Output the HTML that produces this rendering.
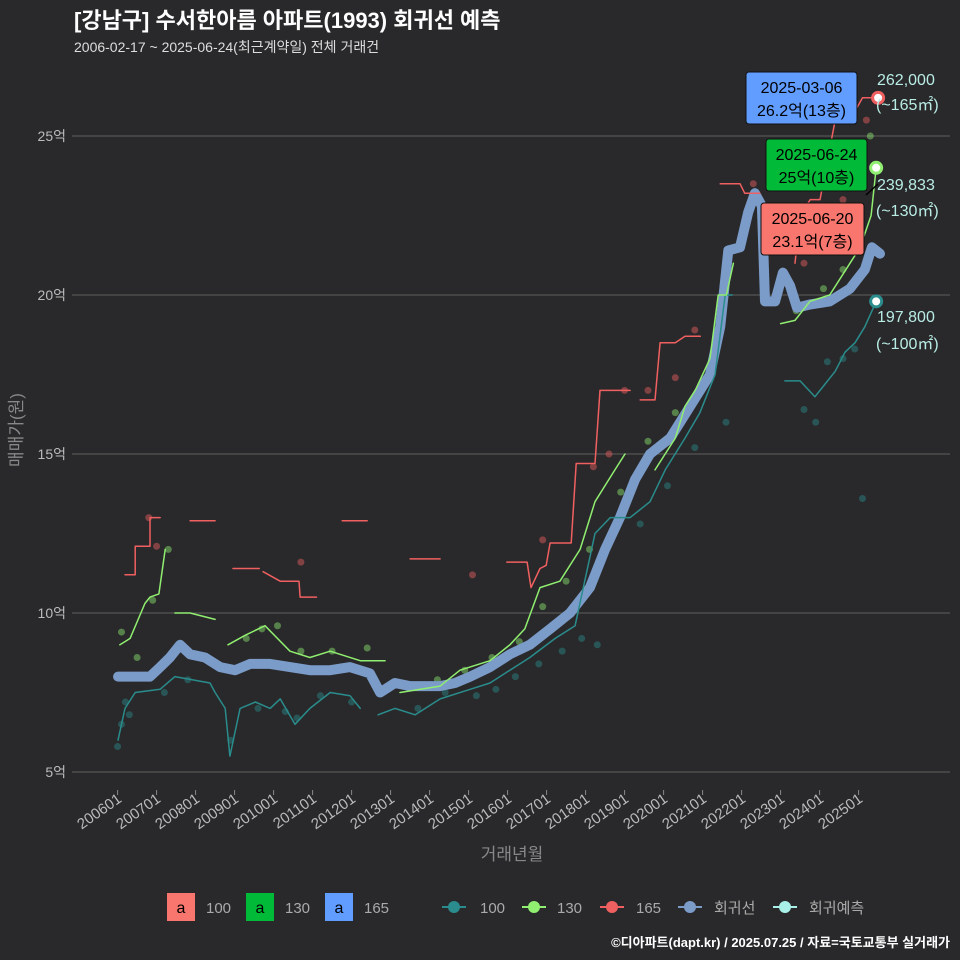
<!DOCTYPE html>
<html><head><meta charset="utf-8">
<style>
body{margin:0;background:#29292b;}
svg{display:block;font-family:"Liberation Sans","Noto Sans CJK KR",sans-serif;}
</style></head><body>
<svg id="c" width="960" height="960" viewBox="0 0 960 960">
<rect x="0" y="0" width="960" height="960" fill="#29292b"/>
<text x="74" y="28" font-size="22" font-weight="bold" fill="#fff">[강남구] 수서한아름 아파트(1993) 회귀선 예측</text>
<text x="74" y="52" font-size="14" fill="#ddd">2006-02-17 ~ 2025-06-24(최근계약일) 전체 거래건</text>
<g id="grid"></g>
<g id="xt"></g>
<g id="marks"></g>
<text transform="translate(22,430) rotate(-90)" text-anchor="middle" font-size="17" fill="#888">매매가(원)</text>
<text x="512" y="860" text-anchor="middle" font-size="17" fill="#888">거래년월</text>
<g font-size="15" fill="#aaa">
<rect x="167" y="893" width="28" height="28" fill="#f8766d"/><text x="181" y="913" text-anchor="middle" fill="#000" font-size="16">a</text><text x="206" y="913">100</text>
<rect x="246" y="893" width="28" height="28" fill="#00ba38"/><text x="260" y="913" text-anchor="middle" fill="#000" font-size="16">a</text><text x="285" y="913">130</text>
<rect x="325" y="893" width="28" height="28" fill="#619cff"/><text x="339" y="913" text-anchor="middle" fill="#000" font-size="16">a</text><text x="364" y="913">165</text>
<g><line x1="442" y1="907" x2="466" y2="907" stroke="#2a8c8c" stroke-width="2"/><circle cx="454" cy="907" r="6" fill="#2a8c8c"/><text x="480" y="913">100</text></g>
<g><line x1="522" y1="907" x2="546" y2="907" stroke="#90ee70" stroke-width="2"/><circle cx="534" cy="907" r="6" fill="#90ee70"/><text x="557" y="913">130</text></g>
<g><line x1="600" y1="907" x2="624" y2="907" stroke="#f06060" stroke-width="2"/><circle cx="612" cy="907" r="6" fill="#f06060"/><text x="636" y="913">165</text></g>
<g><line x1="678" y1="907" x2="702" y2="907" stroke="#7b9bc8" stroke-width="2"/><circle cx="690" cy="907" r="6" fill="#7b9bc8"/><text x="714" y="913">회귀선</text></g>
<g><line x1="773" y1="907" x2="797" y2="907" stroke="#a8f0e8" stroke-width="2"/><circle cx="785" cy="907" r="6" fill="#a8f0e8"/><text x="809" y="913">회귀예측</text></g>
</g>
<text x="950" y="947" text-anchor="end" font-size="13" font-weight="bold" fill="#fff">©디아파트(dapt.kr) / 2025.07.25 / 자료=국토교통부 실거래가</text>
</svg>
<script>
const yTicks=[5,10,15,20,25];
const xTickLabels=["200601","200701","200801","200901","201001","201101","201201","201301","201401","201501","201601","201701","201801","201901","202001","202101","202201","202301","202401","202501"];
const regT=[2006.01,2006.83,2007.09,2007.34,2007.6,2007.86,2008.24,2008.63,2009.01,2009.4,2009.91,2010.42,2010.93,2011.45,2011.96,2012.47,2012.73,2013.11,2013.5,2014.27,2014.65,2015.04,2015.55,2016.06,2016.57,2017.09,2017.6,2018.11,2018.5,2018.88,2019.27,2019.65,2020.17,2020.68,2021.19,2021.45,2021.66,2021.96,2022.17,2022.34,2022.52,2022.6,2022.86,2023.06,2023.24,2023.42,2023.75,2024.26,2024.78,2025.16,2025.34,2025.55];
const regV=[8.0,8.0,8.3,8.6,9.0,8.7,8.6,8.3,8.2,8.4,8.4,8.3,8.2,8.2,8.3,8.1,7.5,7.8,7.7,7.7,7.8,8.0,8.3,8.7,9.0,9.5,10.0,10.8,12.0,13.0,14.2,15.0,15.5,16.5,17.5,19.0,21.4,21.5,22.6,23.2,22.8,19.8,19.8,20.7,20.3,19.6,19.7,19.8,20.2,20.8,21.5,21.3];
const s100T=[2006.01,2006.19,2006.45,2007.09,2007.47,2008.37,2008.5,2008.76,2008.88,2009.14,2009.53,2009.91,2010.17,2010.55,2010.93,2011.45,2011.96,2012.22,null,2012.68,2013.11,2013.63,2014.27,2015.04,2015.55,2016.06,2016.57,2017.22,2017.73,2018.24,2018.63,2019.14,2019.65,2020.04,2020.55,2020.93,2021.32,2021.58,2021.76,null,2023.11,2023.5,2023.88,2024.14,2024.4,2024.65,2024.91,2025.16,2025.45];
const s100V=[6.0,7.0,7.5,7.6,8.0,7.8,7.5,7.0,5.5,7.0,7.2,7.0,7.3,6.5,7.0,7.5,7.4,7.0,null,6.8,7.0,6.8,7.3,7.6,7.8,8.2,8.6,9.2,9.6,12.5,13.0,13.0,13.5,14.5,15.5,16.3,17.5,20.0,20.0,null,17.3,17.3,16.8,17.2,17.6,18.2,18.5,19.0,19.8];
const s130T=[2006.06,2006.32,2006.7,2006.83,2007.06,2007.22,null,2007.47,2007.86,2008.5,null,2008.83,2009.27,2009.78,2010.42,2010.93,2011.45,2012.22,2012.86,null,2013.24,2014.27,2014.78,2015.55,2016.06,2016.44,2016.83,2017.34,2017.86,2018.24,2018.75,2019.01,null,2019.78,2020.3,2020.55,2020.81,2021.19,2021.4,2021.61,2021.79,null,2023.0,2023.37,2023.75,2024.26,2024.78,2025.04,2025.32,2025.45];
const s130V=[9.0,9.2,10.3,10.5,10.6,12.0,null,10.0,10.0,9.8,null,9.0,9.3,9.6,8.8,8.6,8.8,8.5,8.5,null,7.5,7.7,8.2,8.5,9.0,9.5,10.8,11.0,12.0,13.5,14.5,15.0,null,14.5,15.5,16.5,17.0,18.0,20.0,20.0,21.0,null,19.1,19.2,19.8,20.0,21.0,21.5,22.5,24.0];
const s165T=[2006.19,2006.45,2006.45,2006.83,2006.83,2007.09,null,2007.86,2008.5,null,2008.96,2009.63,null,2009.73,2010.17,2010.65,2010.68,2011.1,null,2011.76,2012.4,null,2013.5,2014.27,null,2015.98,2016.5,2016.6,2016.83,2016.99,2017.09,2017.63,2017.76,2018.24,2018.37,2018.62,2019.14,null,2019.4,2019.78,2019.91,2020.3,2020.55,2020.94,null,2021.45,2021.96,2022.08,2022.47,null,2023.37,2023.5,2023.76,2024.01,2024.4,2024.78,2025.1,2025.5];
const s165V=[11.2,11.2,12.1,12.1,13.0,13.0,null,12.9,12.9,null,11.4,11.4,null,11.3,11.0,11.0,10.5,10.5,null,12.9,12.9,null,11.7,11.7,null,11.6,11.6,10.8,11.4,11.5,12.2,12.2,14.7,14.7,17.0,17.0,17.0,null,16.7,16.7,18.5,18.5,18.7,18.7,null,23.5,23.5,23.2,23.2,null,21.0,22.5,23.0,23.0,25.5,25.5,26.2,26.2];
const d100T=[2006.0,2006.1,2006.2,2006.3,2007.2,2007.8,2008.9,2009.6,2010.3,2010.6,2011.2,2012.0,2013.7,2014.4,2015.2,2015.7,2016.2,2016.8,2017.4,2017.9,2018.3,2019.4,2020.1,2020.8,2021.6,2023.6,2023.9,2024.2,2024.6,2024.9,2025.1];
const d100V=[5.8,6.5,7.2,6.8,7.5,7.9,6.0,7.0,6.9,6.7,7.4,7.2,7.0,7.5,7.4,7.6,8.0,8.4,8.8,9.2,9.0,12.8,14.0,15.2,16.0,16.4,16.0,17.9,18.0,18.3,13.6];
const d130T=[2006.1,2006.5,2006.9,2007.3,2009.3,2009.7,2010.1,2010.7,2011.5,2012.4,2014.2,2014.9,2015.6,2016.3,2016.9,2017.5,2018.1,2018.9,2019.6,2020.3,2021.0,2021.6,2023.4,2024.1,2024.6,2025.0,2025.3];
const d130V=[9.4,8.6,10.4,12.0,9.2,9.5,9.6,8.8,8.8,8.9,7.9,8.2,8.6,9.1,10.2,11.0,12.0,13.8,15.4,16.3,17.2,20.8,19.5,20.2,20.8,22.4,25.0];
const d165T=[2006.8,2007.0,2010.7,2015.1,2016.9,2018.2,2018.6,2019.0,2019.6,2020.3,2020.8,2021.5,2022.3,2023.6,2024.1,2024.6,2025.2];
const d165V=[13.0,12.1,11.6,11.2,12.3,14.6,15.0,17.0,17.0,17.4,18.9,20.0,23.5,21.0,22.8,23.0,25.5];

const ns="http://www.w3.org/2000/svg";
const X0=72,X1=950;
function xs(t){return 117.6+(t-2006)*39.0;}
function ys(v){return 772-(v-5)*31.8;}
function mk(tag,attrs,parent){const e=document.createElementNS(ns,tag);for(const k in attrs)e.setAttribute(k,attrs[k]);parent.appendChild(e);return e;}
const grid=document.getElementById('grid');
yTicks.forEach(v=>{
  const l=mk('line',{x1:X0,x2:X1,y1:ys(v),y2:ys(v),stroke:'#5e5e5e','stroke-width':1},grid);
  
  
  const t=mk('text',{x:66,y:ys(v)+5,'text-anchor':'end','font-size':14,fill:'#bbb'},grid);
  t.textContent=v+'억';
  
  
});
const xt=document.getElementById('xt');
xTickLabels.forEach((lab,i)=>{
  const x=xs(2006+i);
  const tk=mk('line',{x1:x,x2:x,y1:790,y2:795,stroke:'#888'},xt);
  
  
  const t=mk('text',{transform:`translate(${x+5},${801}) rotate(-35)`,'text-anchor':'end','font-size':15,fill:'#bbb'},xt);
  t.textContent=lab;
  
  
});
const marks=document.getElementById('marks');
function dots(T,V,col,name){
  T.forEach((t,i)=>{const c=mk('circle',{cx:xs(t),cy:ys(V[i]),r:3.5,fill:col,opacity:0.45},marks);
  
  });
}
function path(T,V,col,w,name){
  let d='',pen=false;
  T.forEach((t,i)=>{if(t===null){pen=false;return;}d+=(pen?'L':'M')+xs(t).toFixed(1)+','+ys(V[i]).toFixed(1);pen=true;});
  const p=mk('path',{d:d,fill:'none',stroke:col,'stroke-width':w,'stroke-linejoin':'round','stroke-linecap':'round'},marks);
  
  
}
dots(d100T,d100V,'#2a8c8c','deal-dot-100');
dots(d130T,d130V,'#90ee70','deal-dot-130');
dots(d165T,d165V,'#f06060','deal-dot-165');
path(regT,regV,'#7b9bc8',10,'regression-line');
path(s100T,s100V,'#2a8c8c',1.5,'line-100');
path(s130T,s130V,'#90ee70',1.5,'line-130');
path(s165T,s165V,'#f06060',1.5,'line-165');
function endDot(t,v,col,name){const c=mk('circle',{cx:xs(t),cy:ys(v),r:5.5,fill:'#fff',stroke:col,'stroke-width':3},marks);
  
  }
endDot(2025.5,26.2,'#f06060','end-point-165');
endDot(2025.45,24.0,'#90ee70','end-point-130');
endDot(2025.45,19.8,'#2a8c8c','end-point-100');
function lab(x,y,s,name){const t=mk('text',{x:x,y:y,'font-size':16,fill:'#b8ece4'},marks);t.textContent=s;
  
  }
lab(877,85,'262,000','end-value-165');lab(876,110,'(~165㎡)','end-area-165');
lab(877,190,'239,833','end-value-130');lab(876,216,'(~130㎡)','end-area-130');
lab(877,322,'197,800','end-value-100');lab(876,349,'(~100㎡)','end-area-100');
mk('line',{x1:866,y1:195,x2:878,y2:184,stroke:'#000','stroke-width':1.5},marks);
function box(x,y,w,h,fill,l1,l2,name){
  const g=mk('g',{},marks);
  
  
  mk('rect',{x:x,y:y,width:w,height:h,rx:3,fill:fill,stroke:'#111','stroke-width':1},g);
  const a=mk('text',{x:x+w/2,y:y+21,'text-anchor':'middle','font-size':16,fill:'#000'},g);a.textContent=l1;
  const b=mk('text',{x:x+w/2,y:y+44,'text-anchor':'middle','font-size':16,fill:'#000'},g);b.textContent=l2;
}
box(746,72,111,52,'#619cff','2025-03-06','26.2억(13층)','annotation-165');
box(766,139,101,52,'#00ba38','2025-06-24','25억(10층)','annotation-130');
box(761,203,103,52,'#f8766d','2025-06-20','23.1억(7층)','annotation-100');
</script>
</body></html>
